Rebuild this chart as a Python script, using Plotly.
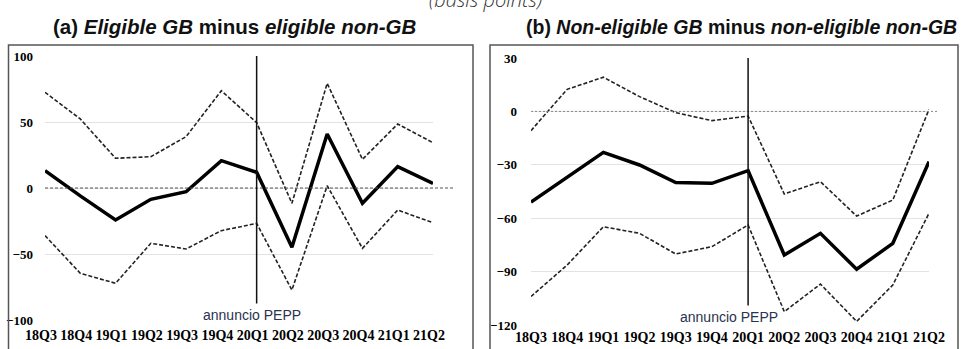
import plotly.graph_objects as go

quarters = ["18Q3", "18Q4", "19Q1", "19Q2", "19Q3", "19Q4", "20Q1", "20Q2", "20Q3", "20Q4", "21Q1", "21Q2"]

a_mid = [13.1, -6, -24.2, -8.6, -2.8, 20.7, 11.9, -44.9, 40.9, -11.6, 16.2, 3.5]
a_up = [72.5, 52.3, 22.5, 23.7, 38.9, 73.7, 49.5, -11.6, 79.3, 21.7, 48.5, 34.3]
a_lo = [-36.1, -64.6, -72.2, -41.9, -46.2, -32.3, -26.8, -77.3, 1.7, -45.7, -16.7, -26.3]

b_mid = [-51, -37, -23, -30.1, -40, -40.4, -33.3, -80.7, -68.5, -88.7, -74.1, -28.2]
b_up = [-10.8, 12.4, 19.2, 8.3, -0.7, -5.2, -2.6, -46.4, -39.5, -58.8, -49.8, 1.2]
b_lo = [-104, -86.3, -64.8, -68.5, -80.1, -76, -63.8, -112.5, -97, -118, -97.5, -57.2]

a_ticks = [-100, -50, 0, 50, 100]
b_ticks = [-120, -90, -60, -30, 0, 30]

W, H = 966, 349
def px(x):
    return x / W
def py(y):
    return 1 - y / H

xs = list(range(len(quarters)))
fig = go.Figure()

def add_panel(xa, ya, mid, up, lo):
    fig.add_trace(go.Scatter(x=xs, y=up, xaxis=xa, yaxis=ya, mode="lines",
                             line=dict(color="#222", width=1.6, dash="4px,2px"), showlegend=False))
    fig.add_trace(go.Scatter(x=xs, y=lo, xaxis=xa, yaxis=ya, mode="lines",
                             line=dict(color="#222", width=1.6, dash="4px,2px"), showlegend=False))
    fig.add_trace(go.Scatter(x=xs, y=mid, xaxis=xa, yaxis=ya, mode="lines",
                             line=dict(color="#000", width=3.5), showlegend=False))

add_panel("x", "y", a_mid, a_up, a_lo)
add_panel("x2", "y2", b_mid, b_up, b_lo)

tickfont_x = dict(family="Liberation Serif", size=14, color="#000", weight="bold")
tickfont_y = dict(family="Liberation Serif", size=13, color="#000", weight="bold")

xcommon = dict(tickmode="array", tickvals=xs, ticktext=quarters, range=[0, 11],
               showgrid=False, zeroline=False, showline=False, ticks="",
               tickfont=tickfont_x, automargin=False, fixedrange=True)

fig.update_layout(
    width=W, height=H, margin=dict(l=0, r=0, t=0, b=0),
    paper_bgcolor="white", plot_bgcolor="white",
    xaxis=dict(domain=[px(45), px(433)], anchor="y", ticklabelstandoff=5, ticklabelshift=-4, **xcommon),
    yaxis=dict(domain=[py(320), py(56)], anchor="x", range=[-100, 100], tickvals=a_ticks,
               showgrid=True, gridcolor="#e3e3e3", gridwidth=1, zeroline=False, showline=False,
               ticks="", tickfont=tickfont_y, ticklabelstandoff=11, automargin=False),
    xaxis2=dict(domain=[px(531), px(929)], anchor="y2", ticklabelstandoff=2, **xcommon),
    yaxis2=dict(domain=[py(325), py(58)], anchor="x2", range=[-120, 30], tickvals=b_ticks,
                showgrid=True, gridcolor="#e3e3e3", gridwidth=1, zeroline=False, showline=False,
                ticks="", tickfont=tickfont_y, ticklabelstandoff=13, automargin=False),
)

shapes = []
# frames
shapes.append(dict(type="rect", xref="paper", yref="paper", x0=px(8.5), x1=px(473), y0=-0.1, y1=py(45),
                   line=dict(color="#555", width=1.5), fillcolor="rgba(0,0,0,0)"))
shapes.append(dict(type="rect", xref="paper", yref="paper", x0=px(490), x1=px(958), y0=-0.1, y1=py(45),
                   line=dict(color="#555", width=1.5), fillcolor="rgba(0,0,0,0)"))
# zero lines
shapes.append(dict(type="line", xref="paper", yref="y", x0=px(45), x1=px(453), y0=0, y1=0,
                   line=dict(color="#555", width=1, dash="3px,2px")))
shapes.append(dict(type="line", xref="paper", yref="y2", x0=px(531), x1=px(939), y0=0, y1=0,
                   line=dict(color="#888", width=1, dash="2px,2px")))
# announcement lines
shapes.append(dict(type="line", xref="x", yref="y", x0=6, x1=6, y0=-88, y1=100,
                   line=dict(color="#111", width=1.5)))
shapes.append(dict(type="line", xref="x2", yref="y2", x0=6, x1=6, y0=-110, y1=30,
                   line=dict(color="#111", width=1.5)))
fig.update_layout(shapes=shapes)

annotations = [
    dict(text="<b>(a) <i>Eligible GB</i> minus <i>eligible non-GB</i></b>", xref="paper", yref="paper",
         x=px(235), y=py(27), showarrow=False, xanchor="center", yanchor="middle",
         font=dict(family="Liberation Sans", size=20.5, color="#111")),
    dict(text="<b>(b) <i>Non-eligible GB</i> minus <i>non-eligible non-GB</i></b>", xref="paper", yref="paper",
         x=px(741), y=py(27), showarrow=False, xanchor="center", yanchor="middle",
         font=dict(family="Liberation Sans", size=19.5, color="#111")),
    dict(text="<i>(basis points)</i>", xref="paper", yref="paper",
         x=px(486), y=py(15), showarrow=False, xanchor="center", yanchor="bottom",
         font=dict(family="Open Sans", size=20, color="#333", weight=300)),
    dict(text="annuncio PEPP", xref="paper", yref="paper", x=px(252), y=py(315),
         showarrow=False, xanchor="center", yanchor="middle", bgcolor="white", borderpad=3,
         font=dict(family="Liberation Sans", size=14, color="#2a3350")),
    dict(text="annuncio PEPP", xref="paper", yref="paper", x=px(729), y=py(317),
         showarrow=False, xanchor="center", yanchor="middle", bgcolor="white", borderpad=3,
         font=dict(family="Liberation Sans", size=14, color="#2a3350")),
]
fig.update_layout(annotations=annotations)

fig.write_html("out.html")
